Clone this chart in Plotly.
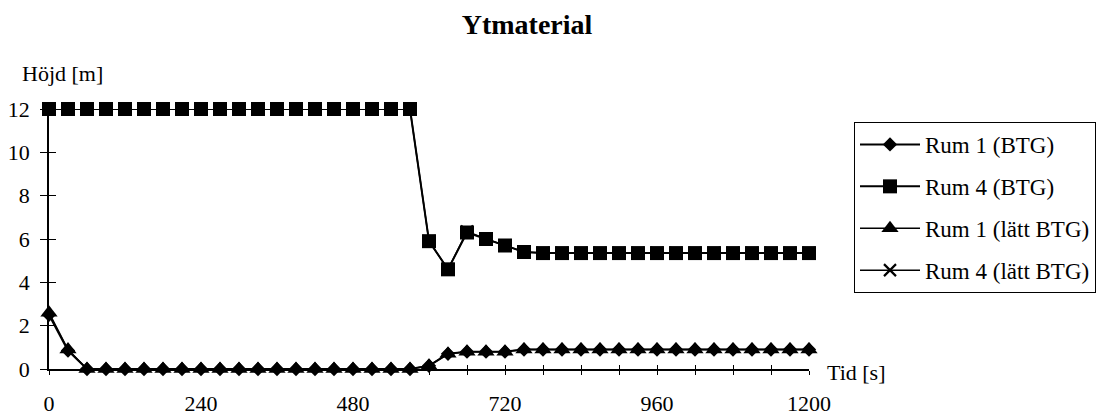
import plotly.graph_objects as go

# Time in seconds
tid = [0, 30, 60, 90, 120, 150, 180, 210, 240, 270, 300, 330, 360, 390, 420, 450,
       480, 510, 540, 570, 600, 630, 660, 690, 720, 750, 780, 810, 840, 870, 900,
       930, 960, 990, 1020, 1050, 1080, 1110, 1140, 1170, 1200]

# Height [m] per room and material
rum1_btg = [2.5, 0.85, 0, 0, 0, 0, 0, 0, 0, 0, 0, 0, 0, 0, 0, 0,
            0, 0, 0, 0, 0.15, 0.7, 0.8, 0.8, 0.8, 0.9, 0.9, 0.9, 0.9, 0.9, 0.9,
            0.9, 0.9, 0.9, 0.9, 0.9, 0.9, 0.9, 0.9, 0.9, 0.9]
rum4_btg = [12, 12, 12, 12, 12, 12, 12, 12, 12, 12, 12, 12, 12, 12, 12, 12,
            12, 12, 12, 12, 5.9, 4.6, 6.3, 6.0, 5.7, 5.4, 5.35, 5.35, 5.35, 5.35, 5.35,
            5.35, 5.35, 5.35, 5.35, 5.35, 5.35, 5.35, 5.35, 5.35, 5.35]
rum1_latt = [2.6, 0.9, 0, 0, 0, 0, 0, 0, 0, 0, 0, 0, 0, 0, 0, 0,
             0, 0, 0, 0, 0.15, 0.7, 0.8, 0.8, 0.8, 0.9, 0.9, 0.9, 0.9, 0.9, 0.9,
             0.9, 0.9, 0.9, 0.9, 0.9, 0.9, 0.9, 0.9, 0.9, 0.9]
rum4_latt = [12, 12, 12, 12, 12, 12, 12, 12, 12, 12, 12, 12, 12, 12, 12, 12,
             12, 12, 12, 12, 5.9, 4.6, 6.35, 6.0, 5.7, 5.4, 5.35, 5.35, 5.35, 5.35, 5.35,
             5.35, 5.35, 5.35, 5.35, 5.35, 5.35, 5.35, 5.35, 5.35, 5.35]

x_ticks = [0, 240, 480, 720, 960, 1200]
y_ticks = [0, 2, 4, 6, 8, 10, 12]

FONT = "Liberation Serif, Times New Roman, serif"
W, H = 1113, 418
L, R, T, B = 49, 304, 109, 49
PW, PH = W - L - R, H - T - B

series = [
    ("Rum 1 (BTG)", rum1_btg, "diamond", 11, 2),
    ("Rum 4 (BTG)", rum4_btg, "square", 14, 2),
    ("Rum 1 (lätt BTG)", rum1_latt, "triangle-up", 15, 1.5),
    ("Rum 4 (lätt BTG)", rum4_latt, "x-thin", 12, 1.5),
]

fig = go.Figure()
for i, (name, vals, sym, size, lw) in enumerate(series):
    marker = dict(symbol=sym, size=size, color="black")
    if sym == "x-thin":
        marker["line"] = dict(color="black", width=2.2)
    fig.add_trace(go.Scatter(
        x=tid, y=vals, name=name, mode="lines+markers",
        line=dict(color="black", width=lw),
        marker=marker, cliponaxis=False, legendgroup=f"g{i}",
    ))

# Invisible trace driving the overlay axes that carry the inner tick halves
fig.add_trace(go.Scatter(x=[0, 1200], y=[0, 12], xaxis="x2", yaxis="y2",
                         mode="markers", marker=dict(opacity=0),
                         showlegend=False, hoverinfo="skip"))

axis_font = dict(family=FONT, size=22, color="black")
fig.update_layout(
    width=W, height=H,
    margin=dict(l=L, r=R, t=T, b=B, autoexpand=False),
    paper_bgcolor="white", plot_bgcolor="white",
    font=dict(family=FONT, size=22, color="black"),
    title=dict(text="<b>Ytmaterial</b>", font=dict(family=FONT, size=28, color="black"),
               x=527 / W, xref="container", xanchor="center",
               y=1 - 24 / H, yref="container", yanchor="middle"),
    xaxis=dict(range=[0, 1200], tickvals=x_ticks, ticktext=[str(v) for v in x_ticks],
               ticks="outside", ticklen=4, tickcolor="black", tickwidth=1,
               minor=dict(dtick=60, ticks="outside", ticklen=4, tickcolor="black"),
               showline=True, linecolor="black", linewidth=1.5,
               showgrid=False, zeroline=False, tickfont=axis_font,
               ticklabelstandoff=10, automargin=False),
    yaxis=dict(range=[0, 12], tickvals=y_ticks,
               ticks="outside", ticklen=7, tickcolor="black", tickwidth=1,
               showline=True, linecolor="black", linewidth=1.5,
               showgrid=False, zeroline=False, tickfont=axis_font,
               ticklabelstandoff=6, automargin=False),
    xaxis2=dict(overlaying="x", range=[0, 1200], dtick=60, tick0=0,
                ticks="inside", ticklen=4, tickcolor="black",
                showticklabels=False, showgrid=False, zeroline=False,
                showline=False, side="bottom", automargin=False),
    yaxis2=dict(overlaying="y", range=[0, 12], dtick=2, tick0=0,
                ticks="inside", ticklen=7, tickcolor="black",
                showticklabels=False, showgrid=False, zeroline=False,
                showline=False, side="left", automargin=False),
    legend=dict(x=(854 - L) / PW, xanchor="left",
                y=(H - B - 122) / PH, yanchor="top",
                bordercolor="black", borderwidth=1, bgcolor="white",
                font=dict(family=FONT, size=23, color="black"),
                itemwidth=60, tracegroupgap=9),
    showlegend=True,
)

fig.add_annotation(text="Höjd [m]", xref="paper", yref="paper",
                   x=(20 - L) / PW, y=(H - B - 73) / PH,
                   xanchor="left", yanchor="middle", showarrow=False,
                   font=dict(family=FONT, size=22, color="black"))
fig.add_annotation(text="Tid [s]", xref="paper", yref="paper",
                   x=(825 - L) / PW, y=(H - B - 372) / PH,
                   xanchor="left", yanchor="middle", showarrow=False,
                   font=dict(family=FONT, size=22, color="black"))

fig.write_html("out.html")
